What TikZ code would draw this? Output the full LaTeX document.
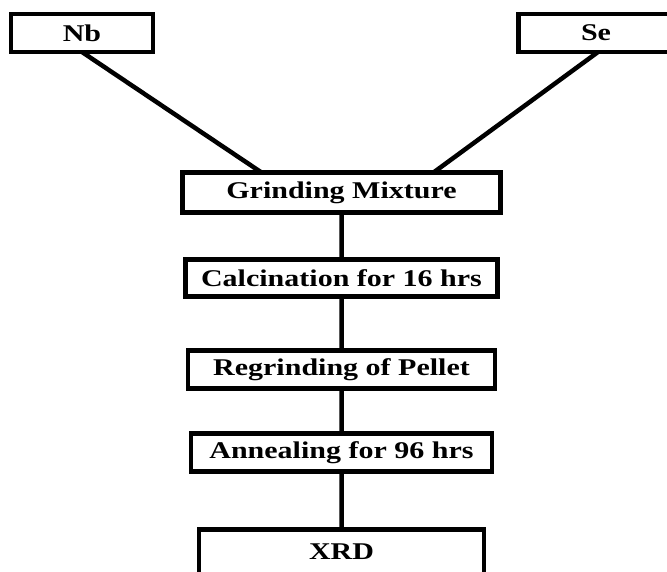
\documentclass[tikz,border=0pt]{standalone}
\usepackage{fontspec}
\setmainfont{Liberation Serif}[FakeStretch=1.25]
\usetikzlibrary{positioning}

\begin{document}
\begin{tikzpicture}[
        x=1pt, y=1pt,
        every node/.style = {
            font=\fontsize{24}{26}\selectfont\bfseries,
            inner sep=0pt,
            outer sep=0pt
        },
        box/.style = {
            draw,
            rectangle,
            line width=4.5pt,
            text centered
        },
        element/.style = {
            box,
            minimum width=142pt,
            minimum height=38pt
        },
        link/.style = {
            line width=4.5pt
        },
        node distance=47pt
    ]
        \useasboundingbox (0,0) rectangle (667,-571);
        \clip (0,0) rectangle (667,-571);

        \node [element]  (nb)  at (82,-33)   {Nb};
        \node [element, minimum width=155pt]  (se)  at (596,-33)  {Se};
        \node [box, minimum width=318pt, minimum height=40pt]  (grind)   at (341.5,-192.5)   {Grinding Mixture};
        \node [box, minimum width=312pt, minimum height=37pt]  (calc)    [below=47pt of grind]   {Calcination for 16 hrs};
        \node [box, minimum width=307pt, minimum height=38pt]  (regrind) [below=54pt of calc]    {Regrinding of Pellet};
        \node [box, minimum width=301pt, minimum height=38pt]  (anneal)  [below=45pt of regrind] {Annealing for 96 hrs};
        \node [box, minimum width=285pt, minimum height=45pt]  (xrd)     [below=58pt of anneal]  {XRD};

        \draw [link]
            (nb.south)      -- ([xshift=-80pt]grind.north)
            ([xshift=2pt]se.south) -- ([xshift=92pt]grind.north)
            (grind.south)   -- (calc.north)
            (calc.south)    -- (regrind.north)
            (regrind.south) -- (anneal.north)
            (anneal.south)  -- (xrd.north)
        ;
    \end{tikzpicture}
\end{document}
